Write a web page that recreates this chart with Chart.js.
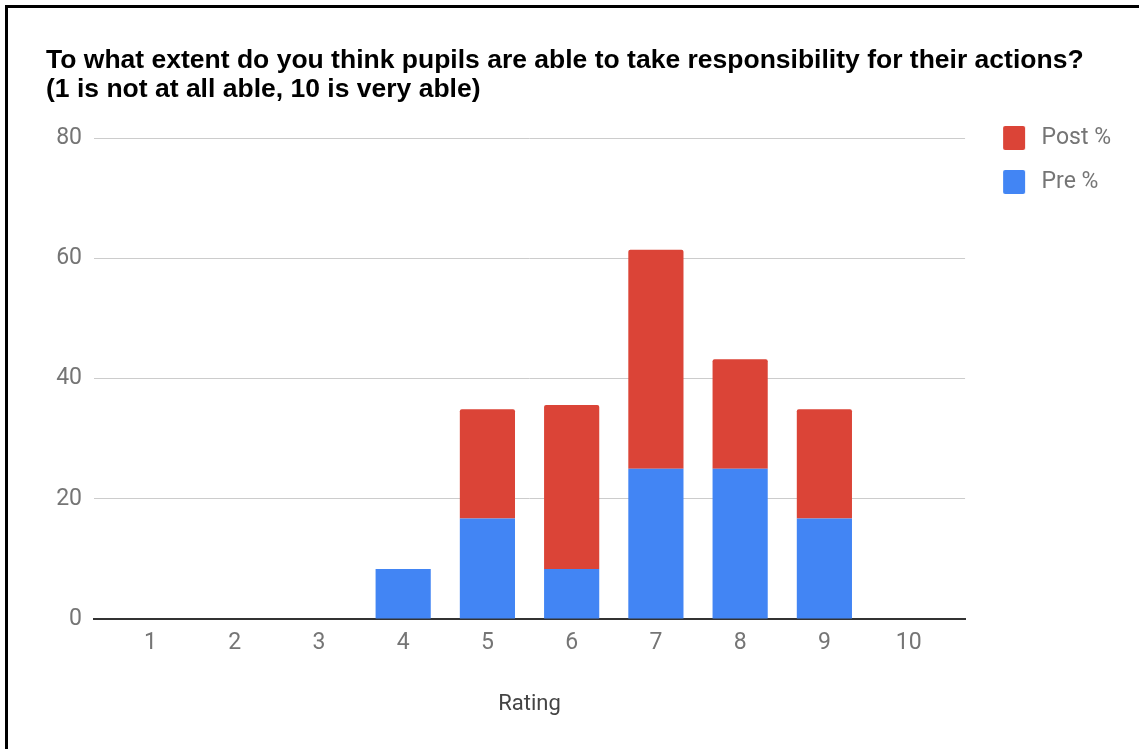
<!DOCTYPE html>
<html>
<head>
<meta charset="utf-8">
<title>Responsibility rating</title>
<script src="https://cdn.jsdelivr.net/npm/chart.js@4/dist/chart.umd.min.js"></script>
<style>
  html, body { margin: 0; padding: 0; background: #fff; }
  body { width: 1139px; height: 749px; position: relative; overflow: hidden; }
  .frame {
    position: absolute; left: 5px; top: 5px; right: -10px; bottom: -10px;
    border-top: 3px solid #000; border-left: 3px solid #000;
  }
  .holder { position: absolute; left: 0; top: 0; width: 1139px; height: 749px; }
</style>
</head>
<body>
<div class="frame"></div>
<div class="holder"><canvas id="chart"></canvas></div>
<script>
// Rating scale 1..10 and the share of answers (%) before and after
const categories = ['1', '2', '3', '4', '5', '6', '7', '8', '9', '10'];
const prePct  = [0, 0, 0, 8.3, 16.7, 8.3, 25, 25, 16.7, 0];
const postPct = [0, 0, 0, 0, 18.2, 27.3, 36.4, 18.2, 18.2, 0];
const yTicks = [0, 20, 40, 60, 80];

const titleLines = [
  'To what extent do you think pupils are able to take responsibility for their actions?',
  '(1 is not at all able, 10 is very able)'
];

const RED = '#DB4437';
const BLUE = '#4285F4';
const TICK_GREY = '#757575';
const LABEL_FONT = 'Roboto, "Noto Sans", sans-serif';

// small rounded legend swatch, drawn right of centre so the gap to the text stays tight
function swatch(color) {
  const c = document.createElement('canvas');
  c.width = 40; c.height = 24;
  const g = c.getContext('2d');
  g.fillStyle = color;
  g.beginPath();
  g.roundRect(15, 0, 22, 24, 2);
  g.fill();
  return c;
}

// place each value at its rating position on a numeric x scale
const toPoints = arr => arr.map((v, i) => ({ x: Number(categories[i]), y: v }));

new Chart(document.getElementById('chart'), {
  type: 'bar',
  data: {
    datasets: [
      {
        label: 'Pre %',
        data: toPoints(prePct),
        backgroundColor: BLUE,
        pointStyle: swatch(BLUE),
        borderRadius: 0,
        categoryPercentage: 1,
        barPercentage: 0.655
      },
      {
        label: 'Post %',
        data: toPoints(postPct),
        backgroundColor: RED,
        pointStyle: swatch(RED),
        borderRadius: { topLeft: 2, topRight: 2, bottomLeft: 0, bottomRight: 0 },
        borderSkipped: 'bottom',
        categoryPercentage: 1,
        barPercentage: 0.655
      }
    ]
  },
  options: {
    responsive: true,
    maintainAspectRatio: false,
    animation: false,
    layout: { padding: { left: 46, right: 18, top: 0, bottom: 0 } },
    plugins: {
      tooltip: { enabled: false },
      title: {
        display: true,
        text: titleLines,
        align: 'start',
        color: '#000',
        font: { family: '"Liberation Sans", Arial, sans-serif', size: 26.5, weight: 'bold', lineHeight: 1.07 },
        padding: { top: 47, bottom: 34.3 }
      },
      legend: {
        position: 'right',
        align: 'start',
        reverse: true,
        title: { display: true, text: '', font: { size: 10, lineHeight: 1 }, padding: { top: 95.5, bottom: 0 } },
        labels: {
          usePointStyle: true,
          pointStyleWidth: 44,
          color: TICK_GREY,
          font: { family: LABEL_FONT, size: 23 },
          padding: 21
        }
      }
    },
    scales: {
      x: {
        type: 'linear',
        stacked: true,
        offset: false,
        min: 0.33,
        max: 10.67,
        afterBuildTicks: scale => { scale.ticks = categories.map(c => ({ value: Number(c) })); },
        afterFit: scale => { scale.height = 130; },
        grid: { display: false, drawTicks: false, offset: false },
        border: { display: true, color: '#333', width: 2 },
        ticks: {
          padding: 10.5,
          color: TICK_GREY,
          font: { family: LABEL_FONT, size: 23 },
          callback: v => categories[v - 1]
        },
        title: {
          display: true,
          text: 'Rating',
          color: '#444',
          font: { family: LABEL_FONT, size: 22 },
          padding: { top: 0, bottom: 31.8 }
        }
      },
      y: {
        stacked: true,
        min: 0,
        max: 80,
        afterBuildTicks: scale => { scale.ticks = yTicks.map(v => ({ value: v })); },
        afterFit: scale => { scale.width = 48; },
        grid: {
          drawTicks: false,
          color: ctx => (ctx.tick && ctx.tick.value === 0 ? 'rgba(0,0,0,0)' : '#cccccc'),
          lineWidth: 1
        },
        border: { display: false },
        ticks: {
          padding: 12,
          color: TICK_GREY,
          font: { family: LABEL_FONT, size: 23 }
        }
      }
    }
  }
});
</script>
</body>
</html>
